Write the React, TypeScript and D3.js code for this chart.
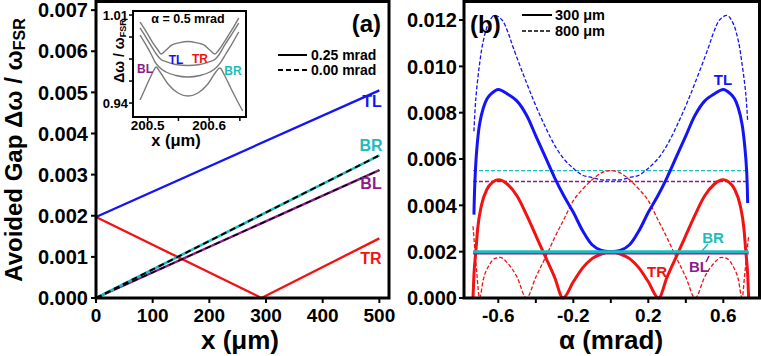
import React from 'react';
import * as d3 from 'd3';

type Pt = [number, number];

const FONT = '"Liberation Sans", Arial, Helvetica, sans-serif';

// ---------- panel (a): gap vs x (um) ----------
const gapTL_a: Pt[] = [[0, 0.00197], [500, 0.00505]];
const gapBR_a: Pt[] = [[0, 0], [500, 0.00347]];
const gapBL_a: Pt[] = [[0, 0], [500, 0.00311]];
const gapTR_a: Pt[] = [[0, 0.00197], [292, 0], [500, 0.00145]];
const xTicksA = [0, 100, 200, 300, 400, 500];
const yTicksA = [0, 0.001, 0.002, 0.003, 0.004, 0.005, 0.006, 0.007];

// inset: eigenfrequency bands vs x at alpha = 0.5 mrad
const band1: Pt[] = [[200.4875, 1.0044], [200.4989, 0.9957], [200.5086, 0.9877], [200.5167, 0.9822], [200.5216, 0.979], [200.5281, 0.9814], [200.5394, 0.9862], [200.5524, 0.9881], [200.5654, 0.9889], [200.5784, 0.9881], [200.5914, 0.9862], [200.6028, 0.9814], [200.6093, 0.979], [200.6157, 0.9822], [200.6255, 0.9893], [200.6369, 0.9981], [200.6482, 1.0076]];
const band2: Pt[] = [[200.4875, 0.9997], [200.4989, 0.9909], [200.5086, 0.983], [200.5151, 0.9782], [200.5216, 0.9746], [200.5297, 0.973], [200.5459, 0.9706], [200.5654, 0.9699], [200.5849, 0.9706], [200.6011, 0.973], [200.6093, 0.9746], [200.6157, 0.9782], [200.6255, 0.9862], [200.6369, 0.9949], [200.6482, 1.0036]];
const band3: Pt[] = [[200.4875, 0.9941], [200.4972, 0.9862], [200.5054, 0.979], [200.5119, 0.9726], [200.5184, 0.9687], [200.5297, 0.9647], [200.5459, 0.9619], [200.5654, 0.9607], [200.5849, 0.9619], [200.6011, 0.9647], [200.6125, 0.9687], [200.619, 0.9726], [200.6271, 0.979], [200.6369, 0.9869], [200.6482, 0.9965]];
const band4: Pt[] = [[200.4875, 0.9424], [200.4956, 0.9512], [200.5037, 0.9599], [200.5102, 0.9663], [200.5135, 0.9687], [200.52, 0.9647], [200.533, 0.9551], [200.5492, 0.948], [200.5654, 0.9456], [200.5817, 0.948], [200.5979, 0.9551], [200.6109, 0.9647], [200.6174, 0.9679], [200.6255, 0.9615], [200.6352, 0.952], [200.645, 0.9424], [200.6547, 0.9337]];
const insetXTicks = [200.5, 200.55, 200.6, 200.65];
const insetXLabels = [200.5, 200.6];
const insetYTicks = [0.94, 0.9575, 0.975, 0.9925, 1.01];
const insetYLabels = [0.94, 1.01];

// ---------- panel (b): gap vs alpha (mrad) ----------
const tl300: Pt[] = [[-0.73, 0.0036], [-0.725, 0.005], [-0.715, 0.0064], [-0.7, 0.0075], [-0.68, 0.0082], [-0.66, 0.0086], [-0.64, 0.0088], [-0.6, 0.009], [-0.55, 0.0088], [-0.5, 0.0085], [-0.45, 0.0079], [-0.4, 0.007], [-0.35, 0.0061], [-0.3, 0.0052], [-0.25, 0.0044], [-0.2, 0.0037], [-0.15, 0.0029], [-0.1, 0.0023], [-0.05, 0.00205], [0, 0.002], [0.05, 0.00205], [0.1, 0.0023], [0.15, 0.0029], [0.2, 0.0037], [0.25, 0.0044], [0.3, 0.0052], [0.35, 0.0061], [0.4, 0.007], [0.45, 0.0079], [0.5, 0.0085], [0.55, 0.0088], [0.6, 0.009], [0.64, 0.0088], [0.66, 0.0086], [0.68, 0.0082], [0.7, 0.0075], [0.715, 0.0065], [0.725, 0.0054], [0.73, 0.0041]];
const tl800: Pt[] = [[-0.73, 0.0072], [-0.72, 0.0086], [-0.7, 0.0101], [-0.68, 0.0111], [-0.65, 0.0119], [-0.62, 0.0122], [-0.58, 0.012], [-0.55, 0.0115], [-0.52, 0.0108], [-0.45, 0.0093], [-0.4, 0.0083], [-0.35, 0.0074], [-0.3, 0.0066], [-0.25, 0.006], [-0.2, 0.0056], [-0.15, 0.0053], [-0.1, 0.0052], [-0.05, 0.0051], [0, 0.0051], [0.05, 0.0051], [0.1, 0.0052], [0.15, 0.0053], [0.2, 0.0056], [0.25, 0.006], [0.3, 0.0066], [0.35, 0.0074], [0.4, 0.0083], [0.45, 0.0093], [0.52, 0.0108], [0.55, 0.0115], [0.58, 0.012], [0.62, 0.0122], [0.65, 0.0119], [0.68, 0.0111], [0.7, 0.0101], [0.72, 0.0088], [0.73, 0.0076]];
const tr300: Pt[] = [[-0.735, 0], [-0.73, 0.001], [-0.72, 0.002], [-0.71, 0.003], [-0.69, 0.004], [-0.66, 0.0047], [-0.63, 0.005], [-0.6, 0.0051], [-0.55, 0.0049], [-0.5, 0.0044], [-0.45, 0.0036], [-0.4, 0.0027], [-0.35, 0.0018], [-0.3, 0.0009], [-0.255, 0], [-0.2, 0.0007], [-0.15, 0.0013], [-0.1, 0.0017], [-0.05, 0.0019], [0, 0.002], [0.05, 0.0019], [0.1, 0.0017], [0.15, 0.0013], [0.2, 0.0007], [0.255, 0], [0.3, 0.0009], [0.35, 0.0018], [0.4, 0.0027], [0.45, 0.0036], [0.5, 0.0044], [0.55, 0.0049], [0.6, 0.0051], [0.63, 0.005], [0.66, 0.0047], [0.69, 0.004], [0.71, 0.003], [0.72, 0.002], [0.73, 0.001], [0.735, 0]];
const tr800: Pt[] = [[-0.735, 0.0031], [-0.725, 0.0021], [-0.715, 0.0011], [-0.7, 0], [-0.68, 0.0008], [-0.65, 0.0014], [-0.62, 0.0017], [-0.59, 0.00175], [-0.55, 0.0015], [-0.5, 0.0009], [-0.45, 0], [-0.4, 0.0009], [-0.34, 0.0019], [-0.3, 0.0026], [-0.25, 0.0034], [-0.2, 0.0042], [-0.15, 0.0047], [-0.1, 0.0051], [-0.05, 0.0054], [0, 0.0055], [0.05, 0.0054], [0.1, 0.0051], [0.15, 0.0047], [0.2, 0.0042], [0.25, 0.0034], [0.3, 0.0026], [0.34, 0.0019], [0.4, 0.0009], [0.45, 0], [0.5, 0.0009], [0.55, 0.0015], [0.59, 0.00175], [0.62, 0.0017], [0.65, 0.0014], [0.68, 0.0008], [0.7, 0], [0.715, 0.0011], [0.725, 0.0019], [0.735, 0.0027]];
const br300: Pt[] = [[-0.735, 0.002], [0.735, 0.002]];
const bl300: Pt[] = [[-0.735, 0.00193], [0.735, 0.00193]];
const br800: Pt[] = [[-0.735, 0.0055], [0.735, 0.0055]];
const bl800: Pt[] = [[-0.735, 0.00503], [0.735, 0.00503]];
const xTicksB = [-0.6, -0.4, -0.2, 0, 0.2, 0.4, 0.6];
const xLabelsB = [-0.6, -0.2, 0.2, 0.6];
const yTicksB = [0, 0.002, 0.004, 0.006, 0.008, 0.01, 0.012];

const BLUE = '#1414f5';
const RED = '#f21212';
const CYAN = '#1cbcbc';
const PURPLE = '#8a1c8c';
const GRAY = '#7a7a7a';

export default function App() {
  // panel (a) scales
  const xA = d3.scaleLinear().domain([0, 517]).range([96, 389]);
  const yA = d3.scaleLinear().domain([0, 0.00721]).range([298, 1.5]);
  const lineA = d3.line<Pt>().x(d => xA(d[0])).y(d => yA(d[1]));

  // inset scales
  const xI = d3.scaleLinear().domain([200.476, 200.66]).range([133, 246]);
  const yI = d3.scaleLinear().domain([0.9289, 1.0132]).range([117, 11]);
  const lineI = d3.line<Pt>().x(d => xI(d[0])).y(d => yI(d[1])).curve(d3.curveMonotoneX);

  // panel (b) scales
  const xB = d3.scaleLinear().domain([-0.783, 0.793]).range([464, 759.5]);
  const yB = d3.scaleLinear().domain([0, 0.0128]).range([298, 1.5]);
  const lineB = d3.line<Pt>().x(d => xB(d[0])).y(d => yB(d[1])).curve(d3.curveMonotoneX);
  const smoothB = d3.line<Pt>().x(d => xB(d[0])).y(d => yB(d[1])).curve(d3.curveCatmullRom.alpha(0.5));

  const fmt3 = d3.format('.3f');
  const fmtB = (v: number) => (v < 0 ? '-' : '') + d3.format('.1f')(Math.abs(v));

  const bold = { fontFamily: FONT, fontWeight: 700 as const };

  return (
    <svg width={761} height={356} style={{ position: 'absolute', left: 0, top: 0, background: '#fff' }}>
      {/* ===== panel (a) ===== */}
      <g>
        <path d={lineA(gapTR_a) || ''} fill="none" stroke={RED} strokeWidth={2.3} />
        <path d={lineA(gapTL_a) || ''} fill="none" stroke={BLUE} strokeWidth={2.3} />
        <path d={lineA(gapBL_a) || ''} fill="none" stroke={PURPLE} strokeWidth={2.4} />
        <path d={lineA(gapBR_a) || ''} fill="none" stroke={CYAN} strokeWidth={2.6} />
        <path d={lineA(gapBL_a) || ''} fill="none" stroke="#000" strokeWidth={1.5} strokeDasharray="6,4" />
        <path d={lineA(gapBR_a) || ''} fill="none" stroke="#000" strokeWidth={2} strokeDasharray="6,4" />

        <rect x={96} y={1.5} width={293} height={296.5} fill="none" stroke="#000" strokeWidth={3} />
        {yTicksA.map(t => (
          <g key={'ya' + t}>
            <line x1={91} x2={96} y1={yA(t)} y2={yA(t)} stroke="#000" strokeWidth={2} />
            <text x={88} y={yA(t)} dy="0.36em" textAnchor="end" fontSize={20} {...bold}>{fmt3(t)}</text>
          </g>
        ))}
        {xTicksA.map(t => (
          <g key={'xa' + t}>
            <line x1={xA(t)} x2={xA(t)} y1={298} y2={303} stroke="#000" strokeWidth={2} />
            <text x={xA(t)} y={322} textAnchor="middle" fontSize={19} {...bold}>{t}</text>
          </g>
        ))}
        <text x={240} y={349} textAnchor="middle" fontSize={26} {...bold}>x (μm)</text>
        <text transform="translate(22,150) rotate(-90)" textAnchor="middle" fontSize={24} {...bold}>
          Avoided Gap Δω / ω<tspan fontSize={16} dy={3}>FSR</tspan>
        </text>
        <text x={381} y={32} textAnchor="end" fontSize={24} {...bold}>(a)</text>

        {/* legend (a) */}
        <line x1={278} x2={307} y1={55} y2={55} stroke="#000" strokeWidth={2} />
        <text x={311} y={55} dy="0.36em" fontSize={14} {...bold}>0.25 mrad</text>
        <line x1={278} x2={307} y1={70} y2={70} stroke="#000" strokeWidth={2} strokeDasharray="5,3" />
        <text x={311} y={70} dy="0.36em" fontSize={14} {...bold}>0.00 mrad</text>

        {/* series labels (a) */}
        <text x={372} y={101} dy="0.36em" textAnchor="middle" fontSize={16} fill={BLUE} {...bold}>TL</text>
        <text x={371} y={145} dy="0.36em" textAnchor="middle" fontSize={16} fill={CYAN} {...bold}>BR</text>
        <text x={371} y={183} dy="0.36em" textAnchor="middle" fontSize={16} fill={PURPLE} {...bold}>BL</text>
        <text x={371} y={258} dy="0.36em" textAnchor="middle" fontSize={16} fill={RED} {...bold}>TR</text>

        {/* inset */}
        <rect x={133} y={11} width={113} height={106} fill="#fff" stroke="#000" strokeWidth={2} />
        {[band1, band2, band3, band4].map((b, i) => (
          <path key={'band' + i} d={lineI(b) || ''} fill="none" stroke={GRAY} strokeWidth={1.4} />
        ))}
        {insetYTicks.map(t => (
          <line key={'yi' + t} x1={129} x2={133} y1={yI(t)} y2={yI(t)} stroke="#000" strokeWidth={1.5} />
        ))}
        {insetYLabels.map(t => (
          <text key={'yil' + t} x={128} y={yI(t)} dy="0.36em" textAnchor="end" fontSize={13} {...bold}>{t.toFixed(2)}</text>
        ))}
        {insetXTicks.map(t => (
          <line key={'xi' + t} x1={xI(t)} x2={xI(t)} y1={117} y2={121} stroke="#000" strokeWidth={1.5} />
        ))}
        {insetXLabels.map(t => (
          <text key={'xil' + t} x={xI(t)} y={130} textAnchor="middle" fontSize={13.5} {...bold}>{t.toFixed(1)}</text>
        ))}
        <text x={176} y={146} textAnchor="middle" fontSize={16.5} {...bold}>x (μm)</text>
        <text transform="translate(124,51) rotate(-90)" textAnchor="middle" fontSize={14} {...bold}>
          Δω / ω<tspan fontSize={9} dy={2}>FSR</tspan>
        </text>
        <text x={188} y={23} textAnchor="middle" fontSize={12.5} {...bold}>α = 0.5 mrad</text>
        <text x={176} y={60} dy="0.36em" textAnchor="middle" fontSize={12} fill={BLUE} {...bold}>TL</text>
        <text x={200} y={59} dy="0.36em" textAnchor="middle" fontSize={12} fill={RED} {...bold}>TR</text>
        <text x={145} y={69} dy="0.36em" textAnchor="middle" fontSize={12} fill={PURPLE} {...bold}>BL</text>
        <text x={233} y={71} dy="0.36em" textAnchor="middle" fontSize={12} fill={CYAN} {...bold}>BR</text>
      </g>

      {/* ===== panel (b) ===== */}
      <g>
        <path d={lineB(bl800) || ''} fill="none" stroke={PURPLE} strokeWidth={1.3} strokeDasharray="4,2" />
        <path d={lineB(br800) || ''} fill="none" stroke={CYAN} strokeWidth={1.3} strokeDasharray="4,2" />
        <path d={smoothB(tl800) || ''} fill="none" stroke={BLUE} strokeWidth={1.3} strokeDasharray="4,2" />
        <path d={lineB(tr800) || ''} fill="none" stroke={RED} strokeWidth={1.3} strokeDasharray="4,2" />
        <path d={lineB(tr300) || ''} fill="none" stroke={RED} strokeWidth={3} />
        <path d={smoothB(tl300) || ''} fill="none" stroke={BLUE} strokeWidth={3} />
        <path d={lineB(bl300) || ''} fill="none" stroke={PURPLE} strokeWidth={2.2} />
        <path d={lineB(br300) || ''} fill="none" stroke={CYAN} strokeWidth={3} />

        <rect x={464} y={1.5} width={295.5} height={296.5} fill="none" stroke="#000" strokeWidth={3} />
        {yTicksB.map(t => (
          <g key={'yb' + t}>
            <line x1={459} x2={464} y1={yB(t)} y2={yB(t)} stroke="#000" strokeWidth={2} />
            <text x={457} y={yB(t)} dy="0.36em" textAnchor="end" fontSize={20} {...bold}>{fmt3(t)}</text>
          </g>
        ))}
        {xTicksB.map(t => (
          <line key={'xb' + t} x1={xB(t)} x2={xB(t)} y1={298} y2={303} stroke="#000" strokeWidth={2} />
        ))}
        {xLabelsB.map(t => (
          <text key={'xbl' + t} x={xB(t)} y={322} textAnchor="middle" fontSize={19} {...bold}>{fmtB(t)}</text>
        ))}
        <text x={611} y={349} textAnchor="middle" fontSize={26} {...bold}>α (mrad)</text>
        <text x={470} y={33} fontSize={24} {...bold}>(b)</text>

        {/* legend (b) */}
        <line x1={522} x2={552} y1={15} y2={15} stroke="#000" strokeWidth={2} />
        <text x={555} y={15} dy="0.36em" fontSize={14.5} {...bold}>300 μm</text>
        <line x1={522} x2={552} y1={31} y2={31} stroke="#000" strokeWidth={1.5} strokeDasharray="4,2" />
        <text x={555} y={31} dy="0.36em" fontSize={14.5} {...bold}>800 μm</text>

        {/* series labels (b) */}
        <text x={723} y={80} dy="0.36em" textAnchor="middle" fontSize={15} fill={BLUE} {...bold}>TL</text>
        <text x={657} y={272} dy="0.36em" textAnchor="middle" fontSize={15} fill={RED} {...bold}>TR</text>
        <text x={713} y={238} dy="0.36em" textAnchor="middle" fontSize={15} fill={CYAN} {...bold}>BR</text>
        <text x={699} y={267} dy="0.36em" textAnchor="middle" fontSize={15} fill={PURPLE} {...bold}>BL</text>
        <line x1={708} x2={702} y1={244} y2={251} stroke={CYAN} strokeWidth={1.5} />
        <line x1={709} x2={706} y1={256} y2={262} stroke={PURPLE} strokeWidth={1.5} />
      </g>
    </svg>
  );
}
